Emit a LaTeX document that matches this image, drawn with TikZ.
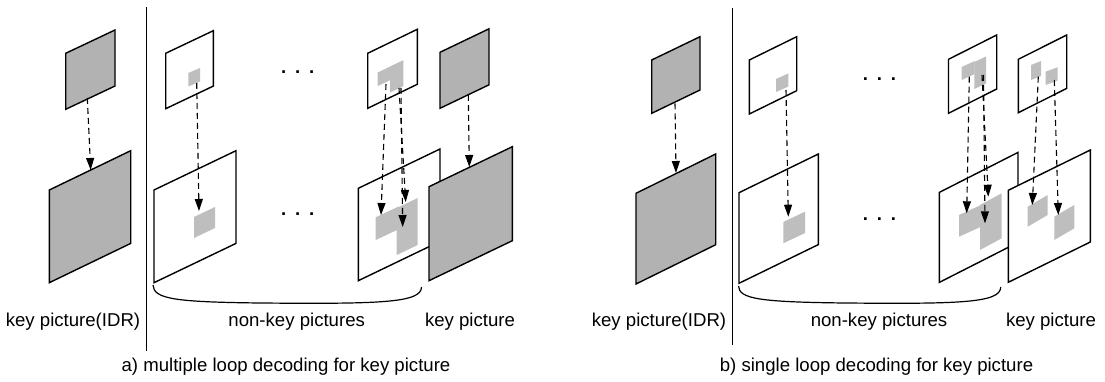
\documentclass[tikz,border=0pt]{standalone}
\usepackage{fontspec}
\setmainfont{Liberation Sans}
\usetikzlibrary{arrows.meta}
\definecolor{framegray}{RGB}{178,178,178}
\definecolor{blockgray}{RGB}{190,190,190}
\newcommand\pgram[6]{\path[#1] (#2,#3) -- ++(#4,-#5) -- ++(0,#6) -- ++(-#4,#5) -- cycle;}
\begin{document}
\begin{tikzpicture}[x=1pt,y=-1pt,
  frame/.style={draw=black,line width=1.4pt,fill=white,line join=miter},
  keyframe/.style={frame,fill=framegray},
  block/.style={fill=blockgray},
  refarrow/.style={line width=1.1pt,dash pattern=on 6pt off 4pt,-{Triangle[length=12pt,width=8pt]}},
  divider/.style={line width=1.4pt},
  brace/.style={line width=1.2pt},
  lbl/.style={font=\fontsize{18.6}{22}\selectfont,inner sep=0pt,anchor=base},
  dots/.style={font=\fontsize{18.6}{22}\selectfont\bfseries,inner sep=0pt}
]
\fill[white] (0,0) rectangle (1105,382);
\useasboundingbox (0,0) rectangle (1105,382);

% ---------------- panel a ----------------
\pgram{keyframe}{65.7}{53.3}{49.3}{23.3}{56}
\pgram{keyframe}{49.3}{190}{81.4}{39.3}{92.7}
\pgram{frame}{165.7}{53.3}{47.6}{22.6}{55.4}
\pgram{frame}{154}{190}{82}{39.3}{92.7}
\pgram{frame}{367.7}{53.3}{49.6}{24}{55}
\pgram{frame}{358.3}{188.3}{81.7}{39.3}{92.4}
\pgram{keyframe}{440}{52.3}{49}{23.5}{56}
% blocks
\pgram{block}{188.3}{73}{11.7}{5}{13.5}
\pgram{block}{194}{217}{21}{10}{21}
\pgram{block}{377.7}{72.5}{13}{6.2}{13.6}
\pgram{block}{390}{66.5}{13.3}{6.3}{26}
\pgram{block}{375.7}{217.3}{22.6}{10.6}{22.7}
\pgram{block}{396.7}{208}{21}{10}{47}
\pgram{keyframe}{429}{186.7}{83.3}{40}{94}

\draw[divider] (146.7,7) -- (146.7,351);
\draw[brace] (153,285) .. controls (153.5,299) and (175,302) .. (260,303)
  .. controls (380,304) and (421.5,303) .. (421.5,287);

\coordinate (aIDRs) at (87.3,98);   \coordinate (aIDRb) at (90.7,170);
\coordinate (aN1s) at (196.7,83);   \coordinate (aN1b) at (199,211);
\coordinate (aN2sA) at (386,84);    \coordinate (aN2bA) at (381,215);
\coordinate (aN2sB) at (399,88);    \coordinate (aN2bB) at (405.7,202);
\coordinate (aN2sC) at (401,88);    \coordinate (aN2bC) at (402.7,227);
\coordinate (aKs) at (468.3,95);    \coordinate (aKb) at (469.3,167);
\draw[refarrow] (aIDRs) -- (aIDRb);
\draw[refarrow] (aN1s) -- (aN1b);
\draw[refarrow] (aN2sA) -- (aN2bA);
\draw[refarrow] (aN2sB) -- (aN2bB);
\draw[refarrow] (aN2sC) -- (aN2bC);
\draw[refarrow] (aKs) -- (aKb);

\node[dots] (adots1) at (297.7,72) {.\hspace{8.8pt}.\hspace{8.8pt}.};
\node[dots] (adots2) at (297.7,214) {.\hspace{8.8pt}.\hspace{8.8pt}.};

\node[lbl] (alab1) at (73,326) {key picture(IDR)};
\node[lbl] (alab2) at (296.7,326) {non-key pictures};
\node[lbl] (alab3) at (470,326) {key picture};
\node[lbl] (acap) at (286,371.5) {a) multiple loop decoding for key picture};

% ---------------- panel b ----------------
\pgram{keyframe}{651.7}{60}{48.3}{23.3}{53.3}
\pgram{keyframe}{636}{193.3}{79.7}{39.3}{90.7}
\pgram{frame}{749.3}{60}{47.4}{23.3}{54}
\pgram{frame}{739}{192.7}{79.3}{38.7}{90.6}
\pgram{frame}{948.5}{59.3}{48.2}{24.3}{54}
\pgram{frame}{939.3}{192.4}{78.7}{40}{90}
\pgram{frame}{1018.3}{59.3}{48.4}{24.3}{53.4}
% blocks
\pgram{block}{776}{79}{12.3}{5.5}{13}
\pgram{block}{783.3}{222}{21.7}{10.3}{21.3}
\pgram{block}{961.7}{67}{13}{6}{13}
\pgram{block}{974.3}{62}{11.7}{5.5}{27}
\pgram{block}{959}{215}{22}{10}{21.7}
\pgram{block}{980}{205}{21.7}{11.7}{45}
\pgram{block}{1031}{65}{10}{4}{15}
\pgram{block}{1045.7}{71.7}{12}{4.5}{13.3}
\pgram{frame}{1008.3}{190.3}{82}{40.3}{92}
\pgram{block}{1027.7}{206.7}{20}{11.7}{20}
\pgram{block}{1054.3}{216.7}{20}{11.7}{23.3}

\draw[divider] (732.7,8) -- (732.7,345);
\draw[brace] (738.5,286) .. controls (739,299) and (760,302) .. (845,303)
  .. controls (960,304) and (1000.7,303) .. (1000.7,287);

\coordinate (bIDRs) at (675,103.3);  \coordinate (bIDRb) at (676,173);
\coordinate (bN1s) at (786,90);      \coordinate (bN1b) at (788.3,216.7);
\coordinate (bN2sA) at (969.3,76.7); \coordinate (bN2bA) at (966.7,213.3);
\coordinate (bN2sB) at (982,75);     \coordinate (bN2bB) at (988.3,196.7);
\coordinate (bN2sC) at (983.5,75);   \coordinate (bN2bC) at (985,223.3);
\coordinate (bKsD) at (1038.3,76.7); \coordinate (bKbD) at (1032.3,205);
\coordinate (bKsE) at (1054.3,80);   \coordinate (bKbE) at (1058.3,215);
\draw[refarrow] (bIDRs) -- (bIDRb);
\draw[refarrow] (bN1s) -- (bN1b);
\draw[refarrow] (bN2sA) -- (bN2bA);
\draw[refarrow] (bN2sB) -- (bN2bB);
\draw[refarrow] (bN2sC) -- (bN2bC);
\draw[refarrow] (bKsD) -- (bKbD);
\draw[refarrow] (bKsE) -- (bKbE);

\node[dots] (bdots1) at (879.5,79) {.\hspace{8.8pt}.\hspace{8.8pt}.};
\node[dots] (bdots2) at (879.5,219) {.\hspace{8.8pt}.\hspace{8.8pt}.};

\node[lbl] (blab1) at (659,326) {key picture(IDR)};
\node[lbl] (blab2) at (879,326) {non-key pictures};
\node[lbl] (blab3) at (1051,326) {key picture};
\node[lbl] (bcap) at (876.5,371.5) {b) single loop decoding for key picture};
\end{tikzpicture}
\end{document}
